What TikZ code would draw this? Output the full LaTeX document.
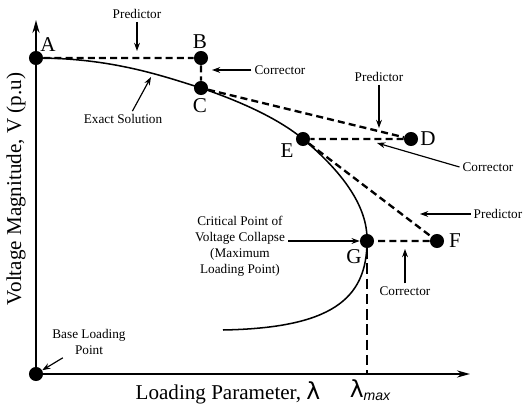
\documentclass[tikz,border=0pt]{standalone}
\usepackage{fontspec}
\setmainfont{Liberation Serif}
\newfontfamily\lamfont{DejaVu Sans}
\newfontfamily\subfont{Liberation Sans}
\usetikzlibrary{arrows.meta}

\begin{document}
\begin{tikzpicture}[x=0.03cm,y=-0.03cm,
  dot/.style={circle,fill,inner sep=0pt,minimum size=12pt},
  note/.style={font=\fontsize{11.3}{13.6}\selectfont,align=center,inner sep=2.5pt},
  ptlabel/.style={font=\fontsize{18}{20}\selectfont,inner sep=0pt},
  axislabel/.style={font=\fontsize{18}{20}\selectfont,inner sep=0pt},
  pc/.style={line width=2pt,dash pattern=on 6pt off 3.5pt},
  pointer/.style={line width=1pt,-{Stealth[length=7pt,width=5pt]}}]

  \useasboundingbox (0,0) rectangle (525,405);

  % Points on the path
  \node[dot] (A) at (36,58) {};
  \node[dot] (B) at (201,58) {};
  \node[dot] (C) at (201,88) {};
  \node[dot] (D) at (411,139) {};
  \node[dot] (E) at (303,139) {};
  \node[dot] (F) at (437,241) {};
  \node[dot] (G) at (367,241) {};
  \node[dot] (O) at (36,374) {};

  % Axes
  \coordinate (ytip) at (36,20);
  \coordinate (xtip) at (470,374);
  \draw[line width=2.3pt,-{Stealth[length=11pt,width=6pt]}] (O.center) -- (ytip);
  \draw[line width=2.3pt,-{Stealth[length=11pt,width=6pt]}] (O.center) -- (xtip);

  % Exact solution curve
  \coordinate (tail) at (223,330);
  \draw[line width=1.3pt] (A.center) .. controls (110,58) and (160,75) .. (C.center)
    .. controls (245,103) and (280,120) .. (E.center)
    .. controls (340,170) and (368,205) .. (G.center)
    .. controls (367,300) and (330,328) .. (tail);

  % Predictor and corrector steps
  \draw[pc] (A) -- (B) -- (C) -- (D) -- (E) -- (F) -- (G);
  \coordinate (Gx) at (G |- O);
  \draw[line width=1.6pt,dash pattern=on 9pt off 4pt] (G) -- (Gx);

  % Point labels
  \node[ptlabel] (labA) at (48,45) {A};
  \node[ptlabel] (labB) at (200,42) {B};
  \node[ptlabel] (labC) at (200,106) {C};
  \node[ptlabel] (labD) at (428,139) {D};
  \node[ptlabel] (labE) at (287,151) {E};
  \node[ptlabel] (labF) at (455,241) {F};
  \node[ptlabel] (labG) at (354,257) {G};

  % Annotations
  \node[note] (pred1) at (137,14) {Predictor};
  \coordinate (p1) at (137,51);
  \draw[pointer] (pred1) -- (p1);

  \node[note] (corr1) at (280,70) {Corrector};
  \coordinate (c1) at (212,70);
  \draw[pointer] (corr1) -- (c1);

  \node[note] (exact) at (123,119) {Exact Solution};
  \coordinate (ex) at (151,77);
  \draw[pointer] ([xshift=8pt]exact.north) -- (ex);

  \node[note] (pred2) at (379,77) {Predictor};
  \coordinate (p2) at (379,128);
  \draw[pointer] (pred2) -- (p2);

  \node[note] (corr2) at (488,167) {Corrector};
  \coordinate (c2) at (377,143);
  \draw[pointer] (corr2.west) -- (c2);

  \node[note] (pred3) at (498,214) {Predictor};
  \coordinate (p3) at (420,214);
  \draw[pointer] (pred3) -- (p3);

  \node[note] (corr3) at (405,291) {Corrector};
  \coordinate (c3) at (405,249);
  \draw[pointer] (corr3) -- (c3);

  \node[note] (crit) at (240,246) {Critical Point of\\Voltage Collapse\\(Maximum\\Loading Point)};
  \draw[pointer] (crit.east |- G) -- (G);

  \node[note] (base) at (89,342) {Base Loading\\Point};
  \draw[pointer] (base) -- (O);

  % Axis labels
  \node[axislabel,rotate=90] (ylab) at (16,189) {Voltage Magnitude, V (p.u)};
  \node[axislabel] (xlab) at (228,393) {Loading Parameter, {\lamfont\fontsize{20}{20}\selectfont λ}};
  \node[axislabel] (lmax) at (370,390) {{\lamfont\fontsize{20}{20}\selectfont λ}\raisebox{-3pt}{\fontsize{12}{12}\selectfont\subfont\itshape max}};
\end{tikzpicture}
\end{document}
